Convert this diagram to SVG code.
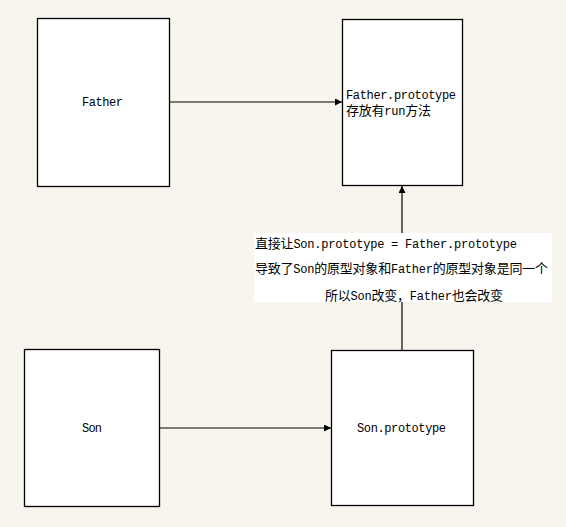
<svg xmlns="http://www.w3.org/2000/svg" width="566" height="527" viewBox="0 0 566 527">
<style>
.box{fill:#fff;stroke:#000;stroke-width:1.3}
.t{font-family:"Liberation Mono","Noto Sans CJK SC",monospace;font-size:13px;fill:#000}
.a{font-size:12px}
.edge{stroke:#000;stroke-width:1.2;fill:none}
</style>
<defs>
<marker id="arr" viewBox="0 0 8 8" refX="8" refY="4" markerWidth="7" markerHeight="7" markerUnits="userSpaceOnUse" orient="auto">
<path d="M0,0 L8,4 L0,8 Z" fill="#000"/>
</marker>
</defs>
<rect width="566" height="527" fill="#f8f5ef"/>
<g id="father">
<rect class="box" x="37.5" y="18.5" width="132" height="168"/>
<text class="t" x="82" y="106" textLength="41"><tspan class="a">Father</tspan></text>
</g>
<g id="father-prototype">
<rect class="box" x="342.5" y="19.5" width="120" height="166"/>
<text class="t" x="346" y="99" textLength="110"><tspan class="a">Father.prototype</tspan></text>
<text class="t" x="346" y="115" textLength="85">存放有<tspan class="a">run</tspan>方法</text>
</g>
<g id="son">
<rect class="box" x="24.5" y="349.5" width="135" height="157"/>
<text class="t" x="82" y="432" textLength="20"><tspan class="a">Son</tspan></text>
</g>
<g id="son-prototype">
<rect class="box" x="331.5" y="350.5" width="142" height="155"/>
<text class="t" x="357" y="432" textLength="89"><tspan class="a">Son.prototype</tspan></text>
</g>
<g id="connectors">
<line class="edge" x1="170" y1="102" x2="342" y2="102" marker-end="url(#arr)"/>
<line class="edge" x1="160" y1="428" x2="331" y2="428" marker-end="url(#arr)"/>
<line class="edge" x1="402" y1="350" x2="402" y2="186" marker-end="url(#arr)"/>
</g>
<g id="edge-label">
<rect x="254" y="233" width="298" height="69" fill="#fff"/>
<text class="t" x="255" y="248" textLength="262">直接让<tspan class="a">Son.prototype = Father.prototype</tspan></text>
<text class="t" x="255" y="273" textLength="293">导致了<tspan class="a">Son</tspan>的原型对象和<tspan class="a">Father</tspan>的原型对象是同一个</text>
<text class="t" x="325" y="300" textLength="178">所以<tspan class="a">Son</tspan>改变，<tspan class="a">Father</tspan>也会改变</text>
</g>
</svg>
